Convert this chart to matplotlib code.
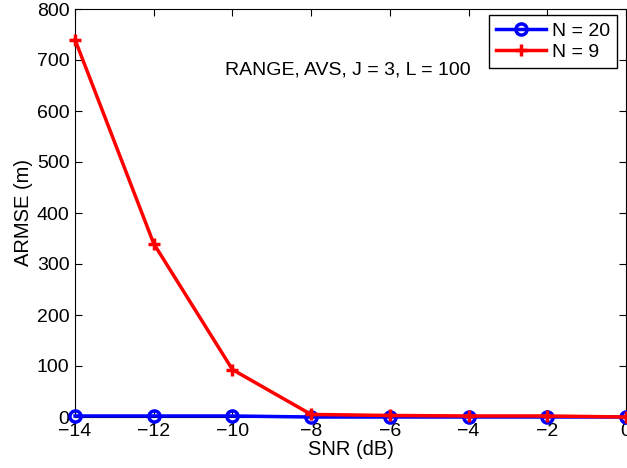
import matplotlib
matplotlib.use('Agg')
import matplotlib.pyplot as plt

plt.rcParams['font.family'] = ['Liberation Sans', 'DejaVu Sans']

snr = [-14, -12, -10, -8, -6, -4, -2, 0]
armse_n20 = [2, 2, 2, 0, 0, 0, 0, 0]
armse_n9 = [740, 340, 93, 5, 3, 2, 2, 0]

fig = plt.figure(figsize=(6.27, 4.68), dpi=100)
ax = fig.add_axes([75 / 627, 1 - 417 / 468, 551 / 627, 408 / 468])

ax.plot(snr, armse_n20, 'b-o', linewidth=2.5, markersize=8, markerfacecolor='none',
        markeredgewidth=2.5, label='N = 20', clip_on=False, zorder=3)
ax.plot(snr, armse_n9, 'r-+', linewidth=2.5, markersize=9, markeredgewidth=2.5,
        label='N = 9', clip_on=False, zorder=4)

ax.set_xlim(-14, 0)
ax.set_ylim(0, 800)
ax.set_xticks(range(-14, 1, 2))
ax.set_yticks(range(0, 801, 100))
ax.set_xticklabels(['\u2212' + str(-v) if v < 0 else str(v) for v in range(-14, 1, 2)])
ax.tick_params(direction='in', top=True, right=True, length=5, labelsize=14, pad=4)
ax.set_xlabel('SNR (dB)', fontsize=14.5, labelpad=0)
ax.set_ylabel('ARMSE (m)', fontsize=14.5, labelpad=3)

ax.text(0.495, 0.85, 'RANGE, AVS, J = 3, L = 100', transform=ax.transAxes,
        ha='center', va='center', fontsize=14)

leg = ax.legend(loc='upper right', bbox_to_anchor=(0.984, 0.985), borderaxespad=0,
                fontsize=14, fancybox=False, framealpha=1, edgecolor='black',
                handlelength=2.6, borderpad=0.35, labelspacing=0.2, handletextpad=0.3)
leg.get_frame().set_linewidth(1.0)

fig.savefig('out.png', dpi=100)
